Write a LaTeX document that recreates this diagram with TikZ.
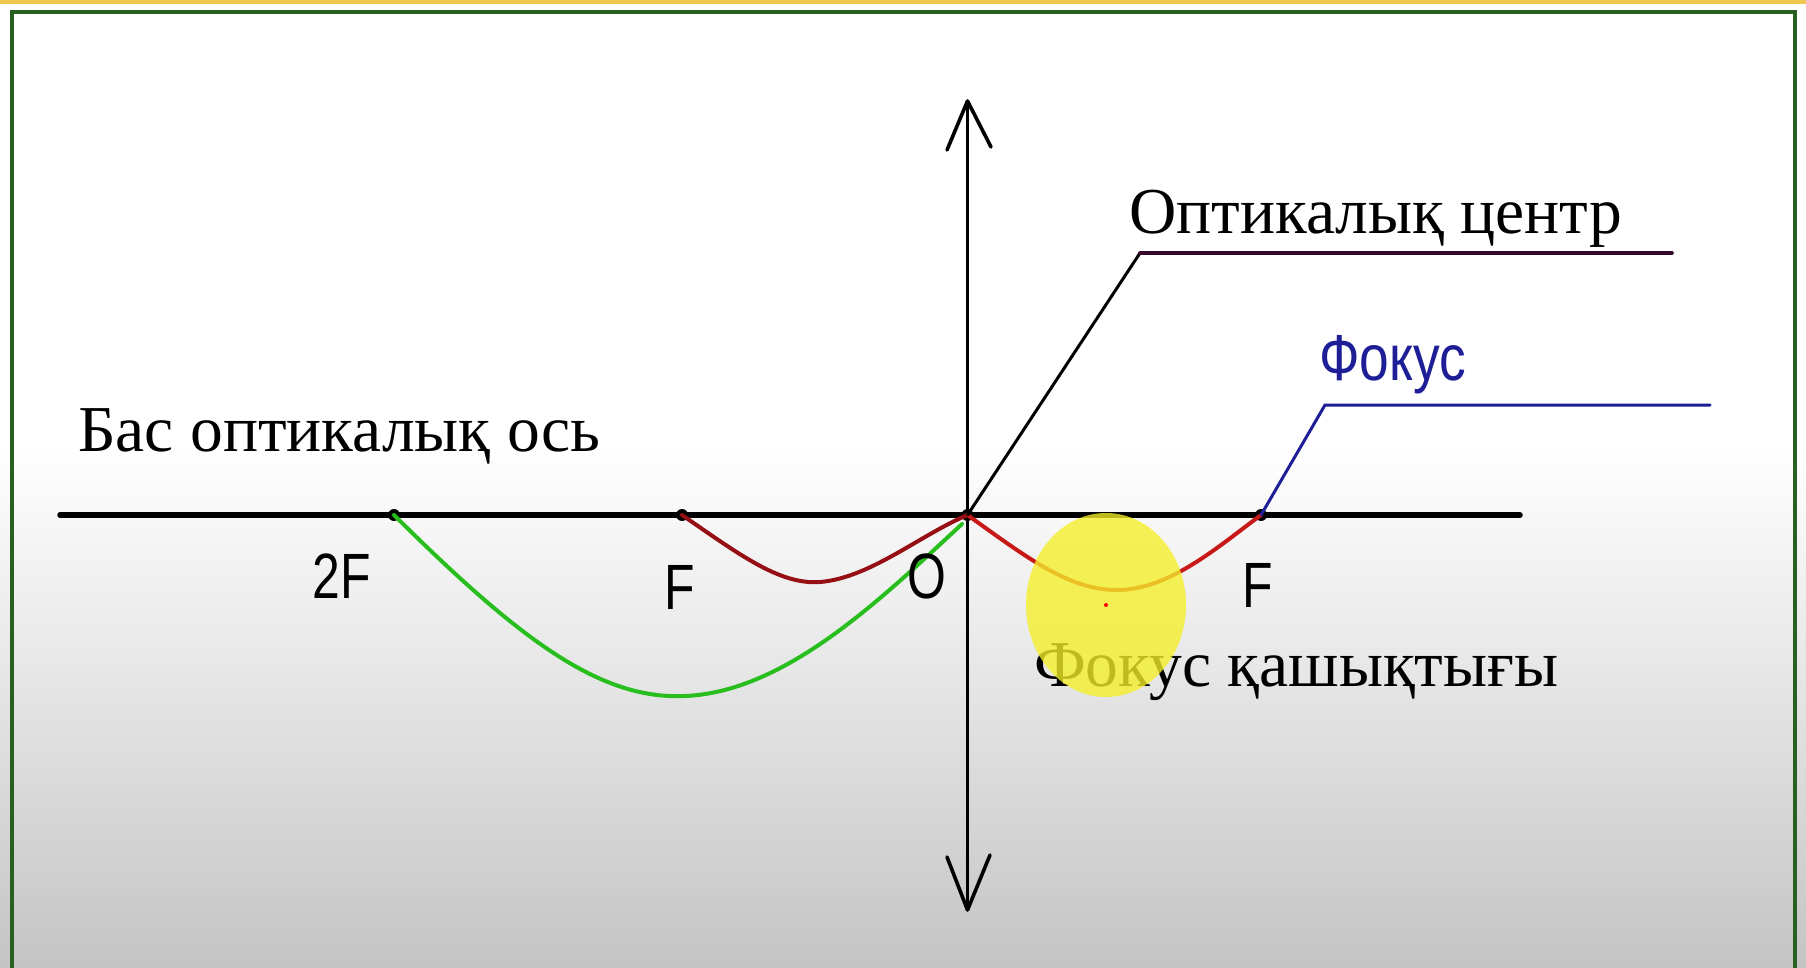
\documentclass[tikz,border=0pt]{standalone}
\usepackage{fontspec}
\setmainfont{Liberation Serif}
\newfontfamily\nsans{Liberation Sans}[FakeStretch=0.78]
\newfontfamily\nsansb{Liberation Sans}[FakeStretch=0.82]
\definecolor{bgbot}{RGB}{196,196,196}
\definecolor{bgmid}{RGB}{230,230,230}
\pgfdeclareverticalshading{bgshade}{100bp}{color(0bp)=(bgbot); color(25bp)=(bgbot); color(40bp)=(bgmid); color(52bp)=(white); color(100bp)=(white)}
\definecolor{framegreen}{RGB}{40,95,35}
\definecolor{topgold}{RGB}{240,200,80}
\definecolor{leadpurple}{RGB}{55,10,45}
\definecolor{focblue}{RGB}{30,30,150}
\definecolor{curvegreen}{RGB}{40,190,30}
\definecolor{curvedark}{RGB}{150,15,20}
\definecolor{curvered}{RGB}{200,25,25}
\definecolor{hlyellow}{RGB}{245,240,40}
\tikzset{
  serif/.style={inner sep=0pt, font=\fontsize{65.5}{78}\selectfont, text=black},
  sanslbl/.style={inner sep=0pt, font=\nsans\fontsize{64}{76}\selectfont, text=black},
  axispt/.style={circle, fill=black, inner sep=0pt, minimum size=12pt},
  curve/.style={line width=4pt, line cap=round},
  leader/.style={line width=3pt, line cap=round},
}
\begin{document}
\begin{tikzpicture}[x=1pt,y=-1pt]
\useasboundingbox (0,0) rectangle (1806,968);
% background
\shade[shading=bgshade] (0,0) rectangle (1806,968);
\fill[topgold] (0,0) rectangle (1806,4);
\fill[white] (0,4) rectangle (1806,9);
% frame
\draw[framegreen, line width=4pt] (12,968) -- (12,12) -- (1795,12) -- (1795,968);
% axis points
\coordinate (L) at (60,515);
\coordinate (R) at (1520,515);
\node[axispt] (P2F) at (394,515) {};
\node[axispt] (PF) at (682,515) {};
\node[axispt] (PO) at (967.5,515) {};
\node[axispt] (PFp) at (1261,515) {};
% main axis
\draw[line width=5.5pt, line cap=round] (L) -- (R);
% lens
\coordinate (LT) at (967.5,101);
\coordinate (LB) at (967.5,910);
\coordinate (LT1) at (947,150);
\coordinate (LT2) at (991,147);
\coordinate (LB1) at (947,857);
\coordinate (LB2) at (990,855);
\draw[line width=3.6pt] (LT) -- (LB);
\draw[line width=3.6pt, line cap=round, line join=round] (LT1) -- (LT) -- (LT2);
\draw[line width=3.6pt, line cap=round, line join=round] (LB1) -- (LB) -- (LB2);
% curves
\draw[curve, curvegreen] (P2F.center) .. controls (520,640) and (600,700) .. (685,696) .. controls (785,692) and (880,600) .. (962,524);
\draw[curve, curvedark] (PF.center) .. controls (740,555) and (780,585) .. (820,582) .. controls (870,578) and (920,535) .. (PO.center);
\draw[curve, curvered] (PO.center) .. controls (1030,560) and (1070,590) .. (1117,590) .. controls (1170,590) and (1220,545) .. (PFp.center);
% leaders
\coordinate (OC1) at (1140,253);
\coordinate (OC2) at (1672,253);
\coordinate (FC1) at (1325,405);
\coordinate (FC2) at (1710,405);
\draw[leader, black] (PO.center) -- (OC1);
\draw[leader, leadpurple, line width=3.6pt] (OC1) -- (OC2);
\draw[leader, focblue] (PFp.center) -- (FC1) -- (FC2);
% texts
\node[serif, anchor=base west] (tAxis) at (78,451) {Бас оптикалық ось};
\node[serif, anchor=base west] (tCenter) at (1129,234) {Оптикалық центр};
\node[serif, anchor=base west] (tDist) at (1034,686) {Фокус қашықтығы};
\node[sanslbl, anchor=base west, text=focblue, font=\nsansb\fontsize{65}{76}\selectfont] (tFoc) at (1319,380) {Фокус};
\node[sanslbl] (l2F) at (342,576) {2F};
\node[sanslbl] (lF) at (680,587) {F};
\node[sanslbl] (lO) at (927,576) {O};
\node[sanslbl] (lFp) at (1258,585) {F};
% highlight
\fill[hlyellow, opacity=0.78] (1106,605) ellipse (80 and 92);
\node[circle, fill=red, inner sep=0pt, minimum size=4pt] (hdot) at (1106,605) {};
\end{tikzpicture}
\end{document}
